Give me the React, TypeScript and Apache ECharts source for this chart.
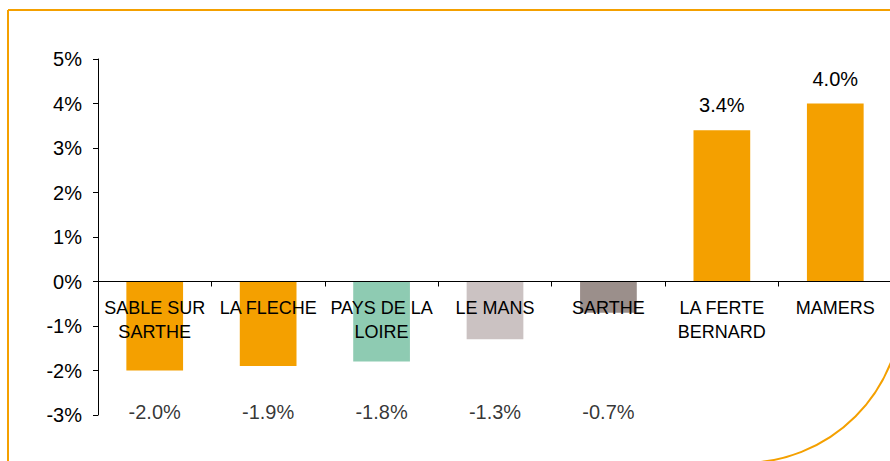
import React, { useEffect, useRef } from "react";
import * as echarts from "echarts";

const categories = [
  "SABLE SUR\nSARTHE",
  "LA FLECHE",
  "PAYS DE LA\nLOIRE",
  "LE MANS",
  "SARTHE",
  "LA FERTE\nBERNARD",
  "MAMERS",
];
const values = [-2.0, -1.9, -1.8, -1.3, -0.7, 3.4, 4.0];
const barColors = ["#F4A000", "#F4A000", "#8ECBB2", "#CBC2C2", "#9B8F8B", "#F4A000", "#F4A000"];
const negativeLabelLevel = -2.94;
const yMin = -3;
const yMax = 5;
const yInterval = 1;

const FONT = "'Liberation Sans', Arial, sans-serif";
const W = 890;
const H = 461;
const GRID = { left: 98, right: -2, top: 59, bottom: 46 };

export default function App() {
  const ref = useRef<HTMLDivElement>(null);
  useEffect(() => {
    if (!ref.current) return;
    const chart = echarts.init(ref.current, null, { renderer: "svg" });
    const fmt = (v: number) => `${v.toFixed(1)}%`;
    const plotH = H - GRID.top - GRID.bottom;
    const zeroOffset = -((0 - yMin) / (yMax - yMin)) * plotH;
    chart.setOption({
      animation: false,
      backgroundColor: "#ffffff",
      textStyle: { fontFamily: FONT },
      graphic: [
        {
          type: "rect",
          shape: { x: 8, y: 10, width: 894, height: 453, r: [0, 0, 159, 0] },
          style: { fill: "none", stroke: "#F4A000", lineWidth: 2 },
          z: 100,
        },
      ],
      grid: { ...GRID, containLabel: false, outerBoundsMode: "none" },
      xAxis: {
        type: "category",
        data: categories,
        z: 10,
        position: "bottom",
        offset: zeroOffset,
        axisLine: { show: true, onZero: false, lineStyle: { color: "#000", width: 1 } },
        axisTick: { show: true, length: 5, lineStyle: { color: "#000" } },
        axisLabel: {
          color: "#000",
          fontSize: 18,
          fontFamily: FONT,
          lineHeight: 24,
          margin: 14,
          interval: 0,
        },
      },
      yAxis: {
        type: "value",
        min: yMin,
        max: yMax,
        interval: yInterval,
        splitLine: { show: false },
        axisLine: { show: true, lineStyle: { color: "#000", width: 1 } },
        axisTick: { show: true, length: 5, lineStyle: { color: "#000" } },
        axisLabel: {
          color: "#000",
          fontSize: 20,
          fontFamily: FONT,
          margin: 16,
          formatter: (v: number) => `${v}%`,
        },
      },
      series: [
        {
          type: "bar",
          barWidth: "50%",
          data: values.map((v, i) => ({
            value: v,
            itemStyle: { color: barColors[i] },
            label: { show: v > 0 },
          })),
          label: {
            position: "top",
            distance: 15,
            color: "#000",
            fontSize: 20,
            fontFamily: FONT,
            formatter: (p: any) => fmt(p.value),
          },
        },
        {
          type: "scatter",
          symbol: "circle",
          symbolSize: 1,
          itemStyle: { color: "rgba(0,0,0,0)" },
          data: values
            .map((v, i) => [i, negativeLabelLevel, v])
            .filter((d) => (d[2] as number) < 0),
          label: {
            show: true,
            position: "inside",
            color: "#000",
            fontSize: 20,
            fontFamily: FONT,
            formatter: (p: any) => fmt(p.value[2]),
          },
          z: 5,
        },
      ],
    });
    return () => chart.dispose();
  }, []);
  return (
    <div
      ref={ref}
      style={{ position: "fixed", left: 0, top: 0, width: W, height: H }}
    />
  );
}
